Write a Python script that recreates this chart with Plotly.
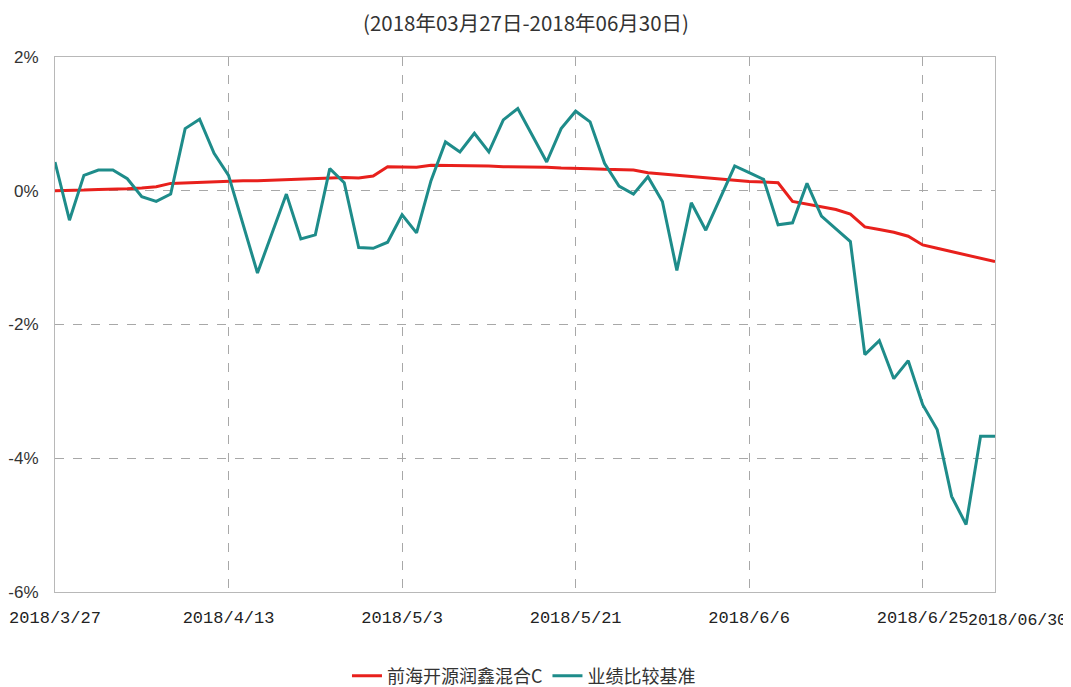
import plotly.graph_objects as go

# x positions (trading-day index) and tick labels
idx = list(range(66))
tick_pos = [0, 12, 24, 36, 48, 60]
tick_labels = ["2018/3/27", "2018/4/13", "2018/5/3", "2018/5/21", "2018/6/6", "2018/6/25"]
end_label = "2018/06/30"
y_ticks = [-6, -4, -2, 0, 2]
y_labels = ["-6%", "-4%", "-2%", "0%", "2%"]

fund_name = "前海开源润鑫混合C"
bench_name = "业绩比较基准"

fund = [0.00, 0.00, 0.01, 0.02, 0.02, 0.03, 0.04, 0.06, 0.11, 0.12,
        0.13, 0.14, 0.15, 0.15, 0.15, 0.16, 0.16, 0.17, 0.19, 0.20,
        0.20, 0.19, 0.22, 0.36, 0.36, 0.35, 0.38, 0.38, 0.38, 0.38,
        0.37, 0.36, 0.36, 0.36, 0.35, 0.34, 0.34, 0.33, 0.32, 0.31,
        0.31, 0.27, 0.25, 0.23, 0.22, 0.20, 0.17, 0.15, 0.14, 0.13,
        0.12, -0.16, -0.20, -0.24, -0.28, -0.35, -0.54, -0.58, -0.62, -0.68,
        -0.81, -0.86, -0.91, -0.96, -1.01, -1.06]

bench = [0.43, -0.44, 0.23, 0.31, 0.31, 0.18, -0.09, -0.16, -0.05, 0.93,
         1.07, 0.56, 0.23, -0.50, -1.23, -0.64, -0.05, -0.72, -0.66, 0.33,
         0.12, -0.85, -0.86, -0.77, -0.36, -0.63, 0.15, 0.73, 0.58, 0.86,
         0.58, 1.06, 1.23, 0.83, 0.43, 0.93, 1.19, 1.03, 0.41, 0.07,
         -0.05, 0.21, -0.16, -1.19, -0.18, -0.59, -0.11, 0.37, 0.27, 0.17,
         -0.51, -0.48, 0.11, -0.38, -0.57, -0.76, -2.45, -2.24, -2.81, -2.54,
         -3.20, -3.57, -4.57, -4.99, -3.67, -3.67]

RED = "#e8201c"
TEAL = "#1e8c8a"

fig = go.Figure()
fig.add_trace(go.Scatter(x=idx, y=fund, mode="lines", name=fund_name,
                         line=dict(color=RED, width=3)))
fig.add_trace(go.Scatter(x=idx, y=bench, mode="lines", name=bench_name,
                         line=dict(color=TEAL, width=3)))

fig.update_layout(
    width=1063, height=679,
    margin=dict(l=47, r=76, t=49, b=95),
    paper_bgcolor="white", plot_bgcolor="white",
    title=dict(text="(2018年03月27日-2018年06月30日)", x=0.4873, xanchor="center",
               y=0.977, yanchor="middle",
               font=dict(family="Noto Sans CJK SC", size=20.5, color="#333333")),
    showlegend=True,
    legend=dict(orientation="h", x=0.4854, xanchor="center", xref="container",
                y=0.0162, yanchor="middle", yref="container",
                font=dict(family="Noto Sans CJK SC", size=18, color="#333333"),
                itemwidth=30, tracegroupgap=0),
    xaxis=dict(range=[0, 65], tickmode="array", tickvals=tick_pos, ticktext=tick_labels,
               showgrid=True, gridcolor="#a8a8a8", griddash="dash", gridwidth=1,
               showline=True, linecolor="#b8b8b8", linewidth=1, mirror=True,
               ticks="", zeroline=False, ticklabelstandoff=10, automargin=False,
               tickfont=dict(family="Liberation Mono", size=17, color="#222222")),
    yaxis=dict(range=[-6, 2], tickmode="array", tickvals=y_ticks, ticktext=y_labels,
               showgrid=True, gridcolor="#a8a8a8", griddash="dash", gridwidth=1,
               showline=True, linecolor="#b8b8b8", linewidth=1, mirror=True,
               ticks="", zeroline=False, ticklabelstandoff=12, automargin=False,
               tickfont=dict(family="Liberation Sans", size=17, color="#333333")),
)

fig.add_annotation(x=1.0777, xref="paper", y=-0.034, yref="paper", yanchor="top",
                   xanchor="right", text=end_label, showarrow=False,
                   bgcolor="white", borderpad=0,
                   font=dict(family="Liberation Mono", size=16.5, color="#222222"))

fig.write_html("out.html")
